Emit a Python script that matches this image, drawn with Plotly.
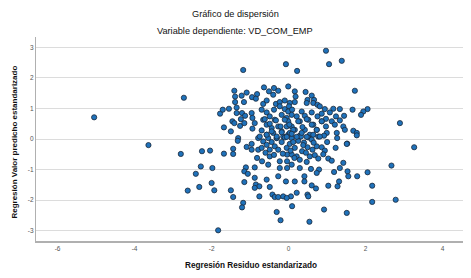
import plotly.graph_objects as go

# Standardized residual (x) and standardized predicted value (y)
resid = [
    # left / outliers
    -5.05, -3.64, -2.72, -2.80, -2.25, -2.28, -2.41, -2.32, -2.62, 0.97,
    # upper-left cluster
    -1.18, -0.07, -0.64, -0.51, -0.38, -0.27, -1.41, -1.09, -1.22, -1.39,
    -0.82, -0.95, -0.85, -0.40, -1.39, -1.16, -0.66, -0.57, -0.33, -0.23,
    -0.10, -0.01, -1.78, -1.71, -1.55, -1.35, -1.21, -1.35, -1.46, -1.41,
    -1.13, -0.96, -0.70, -0.57, -0.38, -0.23, -0.10, -1.68, -1.50, -1.26,
    -1.15, -1.24, -0.94, -0.94, -0.88, -0.66, -0.57, -0.49, -0.36, -0.18,
    -0.05, -1.31, -0.70, -0.57, -0.44, -0.40, -0.27, -0.18, -0.05, -0.14,
    -0.79, -0.31, -0.01,
    # upper-right cluster
    0.22, 1.05, 1.38, 1.72, 0.16, 0.44, 0.18, 0.60, 0.16, 0.49,
    0.66, 0.64, 0.75, 0.47, 0.03, 0.81, 0.01, -0.01, 0.09, 0.34,
    0.60, 0.94, 1.16, 1.33, 1.66, 2.05, 1.94, 1.88, 0.08, 0.21,
    0.42, 0.75, 0.86, 1.07, 0.97, 1.12, 1.23, 1.33, 1.44, 1.20,
    1.42, 1.68, 1.77, -0.01, 0.08, 0.29, 0.51, 0.64, 0.86, 0.16,
    0.42, 0.73, 0.99, 0.03, 0.29, 0.55, 1.25, 1.46,
    # right side
    2.89, 3.26, 2.67, 2.78, 2.17, 2.17, 2.05, 1.52, 1.78, 1.51, 0.92,
    # lower-left cluster
    -1.32, -2.04, -1.68, -1.44, -1.44, -1.09, -0.96, -0.96, -1.98, -1.11,
    -0.88, -1.15, -1.06, -0.82, -0.69, -0.53, -0.23, -0.88, -0.57, -0.27,
    -0.07, -1.15, -2.00, -1.93, -1.50, -1.44, -0.85, -0.76, -0.88, -0.76,
    -0.49, -0.42, -0.36, -0.27, -0.14, -1.18, -1.21, -0.31, -0.05, -0.04,
    -0.75, -0.66, -0.57, -0.53, -0.44, -0.36, -0.31, -0.18, -0.10, -0.49,
    -0.27, -0.79, -0.70, -0.04, -0.49, -0.04, -0.23,
    # lower-right cluster
    0.08, 0.25, 0.32, 0.51, 0.60, 0.77, 0.92, 1.26, 1.51, 1.77,
    0.03, 0.16, 0.49, 0.73, 0.86, 0.94, 1.22, 0.08, 0.21, 0.29,
    0.55, 0.68, 0.77, 1.03, 1.12, 0.47, 0.08, 0.29, 0.58, 0.79,
    0.73, 1.18, 1.33, 1.42, 1.53, 1.55, 0.16, 0.41, 0.41, 0.60,
    0.71, 1.03, 1.27, 1.31, 0.21, 0.06, -0.05, 0.49, 0.51, 0.09,
    0.12, 0.40, 0.35, 0.62,
    # bottom
    -1.83, -0.21, 0.54,
    # dense core
    -0.62, -0.49, -0.33, -0.21, -0.10, 0.02, 0.12, 0.25, 0.36, 0.47,
    0.60, 0.73, 0.86, 0.97, -0.57, -0.44, -0.31, -0.18, -0.05, 0.08,
    0.21, 0.34, 0.47, 0.64, 0.81,
    -0.60, -0.15, 0.05, 0.45, 0.65, 0.38, -0.38, 0.15, 0.90, 1.00,
]

pred = [
    # left / outliers
    0.71, -0.20, 1.35, -0.49, -0.40, -0.90, -1.14, -1.57, -1.69, 2.89,
    # upper-left cluster
    2.26, 2.45, 1.69, 1.56, 1.67, 1.58, 1.58, 1.52, 1.42, 1.39,
    1.47, 1.37, 1.32, 1.45, 1.21, 1.21, 1.15, 1.26, 1.15, 1.21,
    1.26, 1.72, 0.83, 0.96, 0.99, 1.03, 0.85, 0.85, 0.58, 0.52,
    0.76, 0.85, 0.96, 0.87, 0.96, 1.07, 0.98, 0.38, 0.25, 0.43,
    0.52, 0.65, 0.69, 0.34, 0.52, 0.63, 0.47, 0.74, 0.63, 0.79,
    0.69, 0.03, 0.28, 0.14, 0.36, 0.20, 0.41, 0.25, 0.41, 0.08,
    0.03, 0.03, 0.14,
    # upper-right cluster
    2.23, 2.45, 2.56, 1.58, 1.56, 1.54, 1.39, 1.42, 1.21, 1.28,
    1.28, 1.18, 1.12, 1.18, 1.18, 1.07, 1.07, 0.90, 0.96, 0.90,
    0.87, 0.98, 0.99, 0.98, 0.96, 0.98, 0.90, 0.79, 0.79, 0.74,
    0.76, 0.74, 0.83, 0.87, 0.66, 0.58, 0.74, 0.61, 0.76, 0.47,
    0.41, 0.27, 0.20, 0.58, 0.41, 0.58, 0.63, 0.47, 0.58, 0.30,
    0.30, 0.30, 0.20, 0.20, 0.11, 0.14, 0.20, 0.30,
    # right side
    0.52, -0.27, -0.87, -1.99, -1.53, -2.06, -1.09, -0.15, -1.22, -2.42, -2.31,
    # lower-left cluster
    -0.06, -0.38, -0.48, -0.32, -0.49, -0.26, -0.35, -0.16, -0.95, -0.93,
    -0.93, -1.06, -1.14, -0.62, -0.73, -0.84, -0.73, -1.27, -1.33, -1.22,
    -1.39, -1.41, -1.44, -1.68, -1.68, -1.90, -1.49, -1.55, -1.60, -1.88,
    -1.57, -1.82, -1.90, -1.90, -1.88, -2.09, -2.24, -2.39, -0.29, -0.51,
    0.08, -0.08, -0.19, 0.03, -0.10, -0.24, 0.03, -0.10, 0.05, -0.35,
    -0.35, -0.35, -0.29, -0.73, -0.57, -0.95, -0.95,
    # lower-right cluster
    0.03, -0.06, 0.08, 0.05, -0.02, 0.08, 0.11, 0.03, -0.16, 0.12,
    -0.16, -0.29, -0.27, -0.24, -0.27, -0.38, -0.29, -0.51, -0.57, -0.68,
    -0.57, -0.53, -0.64, -0.64, -0.71, -0.75, -0.84, -0.95, -0.98, -1.00,
    -1.11, -1.08, -0.95, -0.78, -1.06, -1.22, -1.39, -1.22, -1.39, -1.52,
    -1.62, -1.53, -1.55, -1.39, -1.76, -1.88, -1.93, -1.82, -1.88, -2.20,
    -0.10, -0.12, -0.40, -0.35,
    # bottom
    -2.99, -2.66, -2.71,
    # dense core
    0.65, 0.50, 0.61, 0.41, 0.63, 0.47, 0.30, 0.58, 0.39, 0.65,
    0.47, 0.30, 0.58, 0.41, 0.14, 0.25, 0.08, 0.22, 0.07, 0.17,
    0.07, 0.20, 0.07, 0.14, 0.08,
    -0.45, -0.48, -0.38, -0.45, -0.12, -0.20, -0.52, -0.62, -0.50, -0.10,
]

x_tick_values = [-6, -4, -2, 0, 2, 4]
x_tick_labels = ["-6", "-4", "-2", "0", "2", "4"]
y_tick_values = [-3, -2, -1, 0, 1, 2, 3]
y_tick_labels = ["-3", "-2", "-1", "0", "1", "2", "3"]

title_main = "Gráfico de dispersión"
title_sub = "Variable dependiente: VD_COM_EMP"
x_title = "Regresión Residuo estandarizado"
y_title = "Regresión Valor predicho estandarizado"

fig = go.Figure()
fig.add_trace(go.Scatter(
    x=resid, y=pred, mode="markers",
    marker=dict(size=5.2, color="#1f72bb", line=dict(color="#1c2838", width=0.8)),
    hoverinfo="x+y", showlegend=False,
))

font_family = "Liberation Sans, Arial, sans-serif"

# the page adds an 8px body margin, so the figure is 8px smaller and margins shifted
fig.update_layout(
    width=463, height=270,
    margin=dict(l=28, r=6, t=29, b=37),
    paper_bgcolor="white", plot_bgcolor="white",
    font=dict(family=font_family, size=6.5, color="#555555"),
    xaxis=dict(
        range=[-6.56, 4.58], tickvals=x_tick_values, ticktext=x_tick_labels,
        showgrid=False, zeroline=False, showline=True, linecolor="#b0b0b0", linewidth=1.5,
        ticks="", tickfont=dict(size=6.5, color="#555555"),
    ),
    yaxis=dict(
        range=[-3.34, 3.34], tickvals=y_tick_values, ticktext=y_tick_labels,
        showgrid=True, gridcolor="#dcdcdc", gridwidth=1,
        zeroline=False, showline=True, linecolor="#b0b0b0", linewidth=1.2,
        ticks="", tickfont=dict(size=6.5, color="#555555"),
    ),
    annotations=[
        dict(text=title_main, xref="paper", yref="paper", x=0.465, y=1.113,
             showarrow=False, xanchor="center", yanchor="middle",
             font=dict(size=9.2, color="#111111", family=font_family)),
        dict(text=title_sub, xref="paper", yref="paper", x=0.465, y=1.029,
             showarrow=False, xanchor="center", yanchor="middle",
             font=dict(size=9.2, color="#111111", family=font_family)),
        dict(text="<b>" + x_title + "</b>", xref="paper", yref="paper", x=0.5, y=-0.118,
             showarrow=False, xanchor="center", yanchor="middle",
             font=dict(size=8.2, color="#111111", family=font_family)),
        dict(text="<b>" + y_title + "</b>", xref="paper", yref="paper", x=-0.051, y=0.483,
             showarrow=False, xanchor="center", yanchor="middle", textangle=-90,
             font=dict(size=8.0, color="#111111", family=font_family)),
    ],
)

fig.write_html("out.html")
